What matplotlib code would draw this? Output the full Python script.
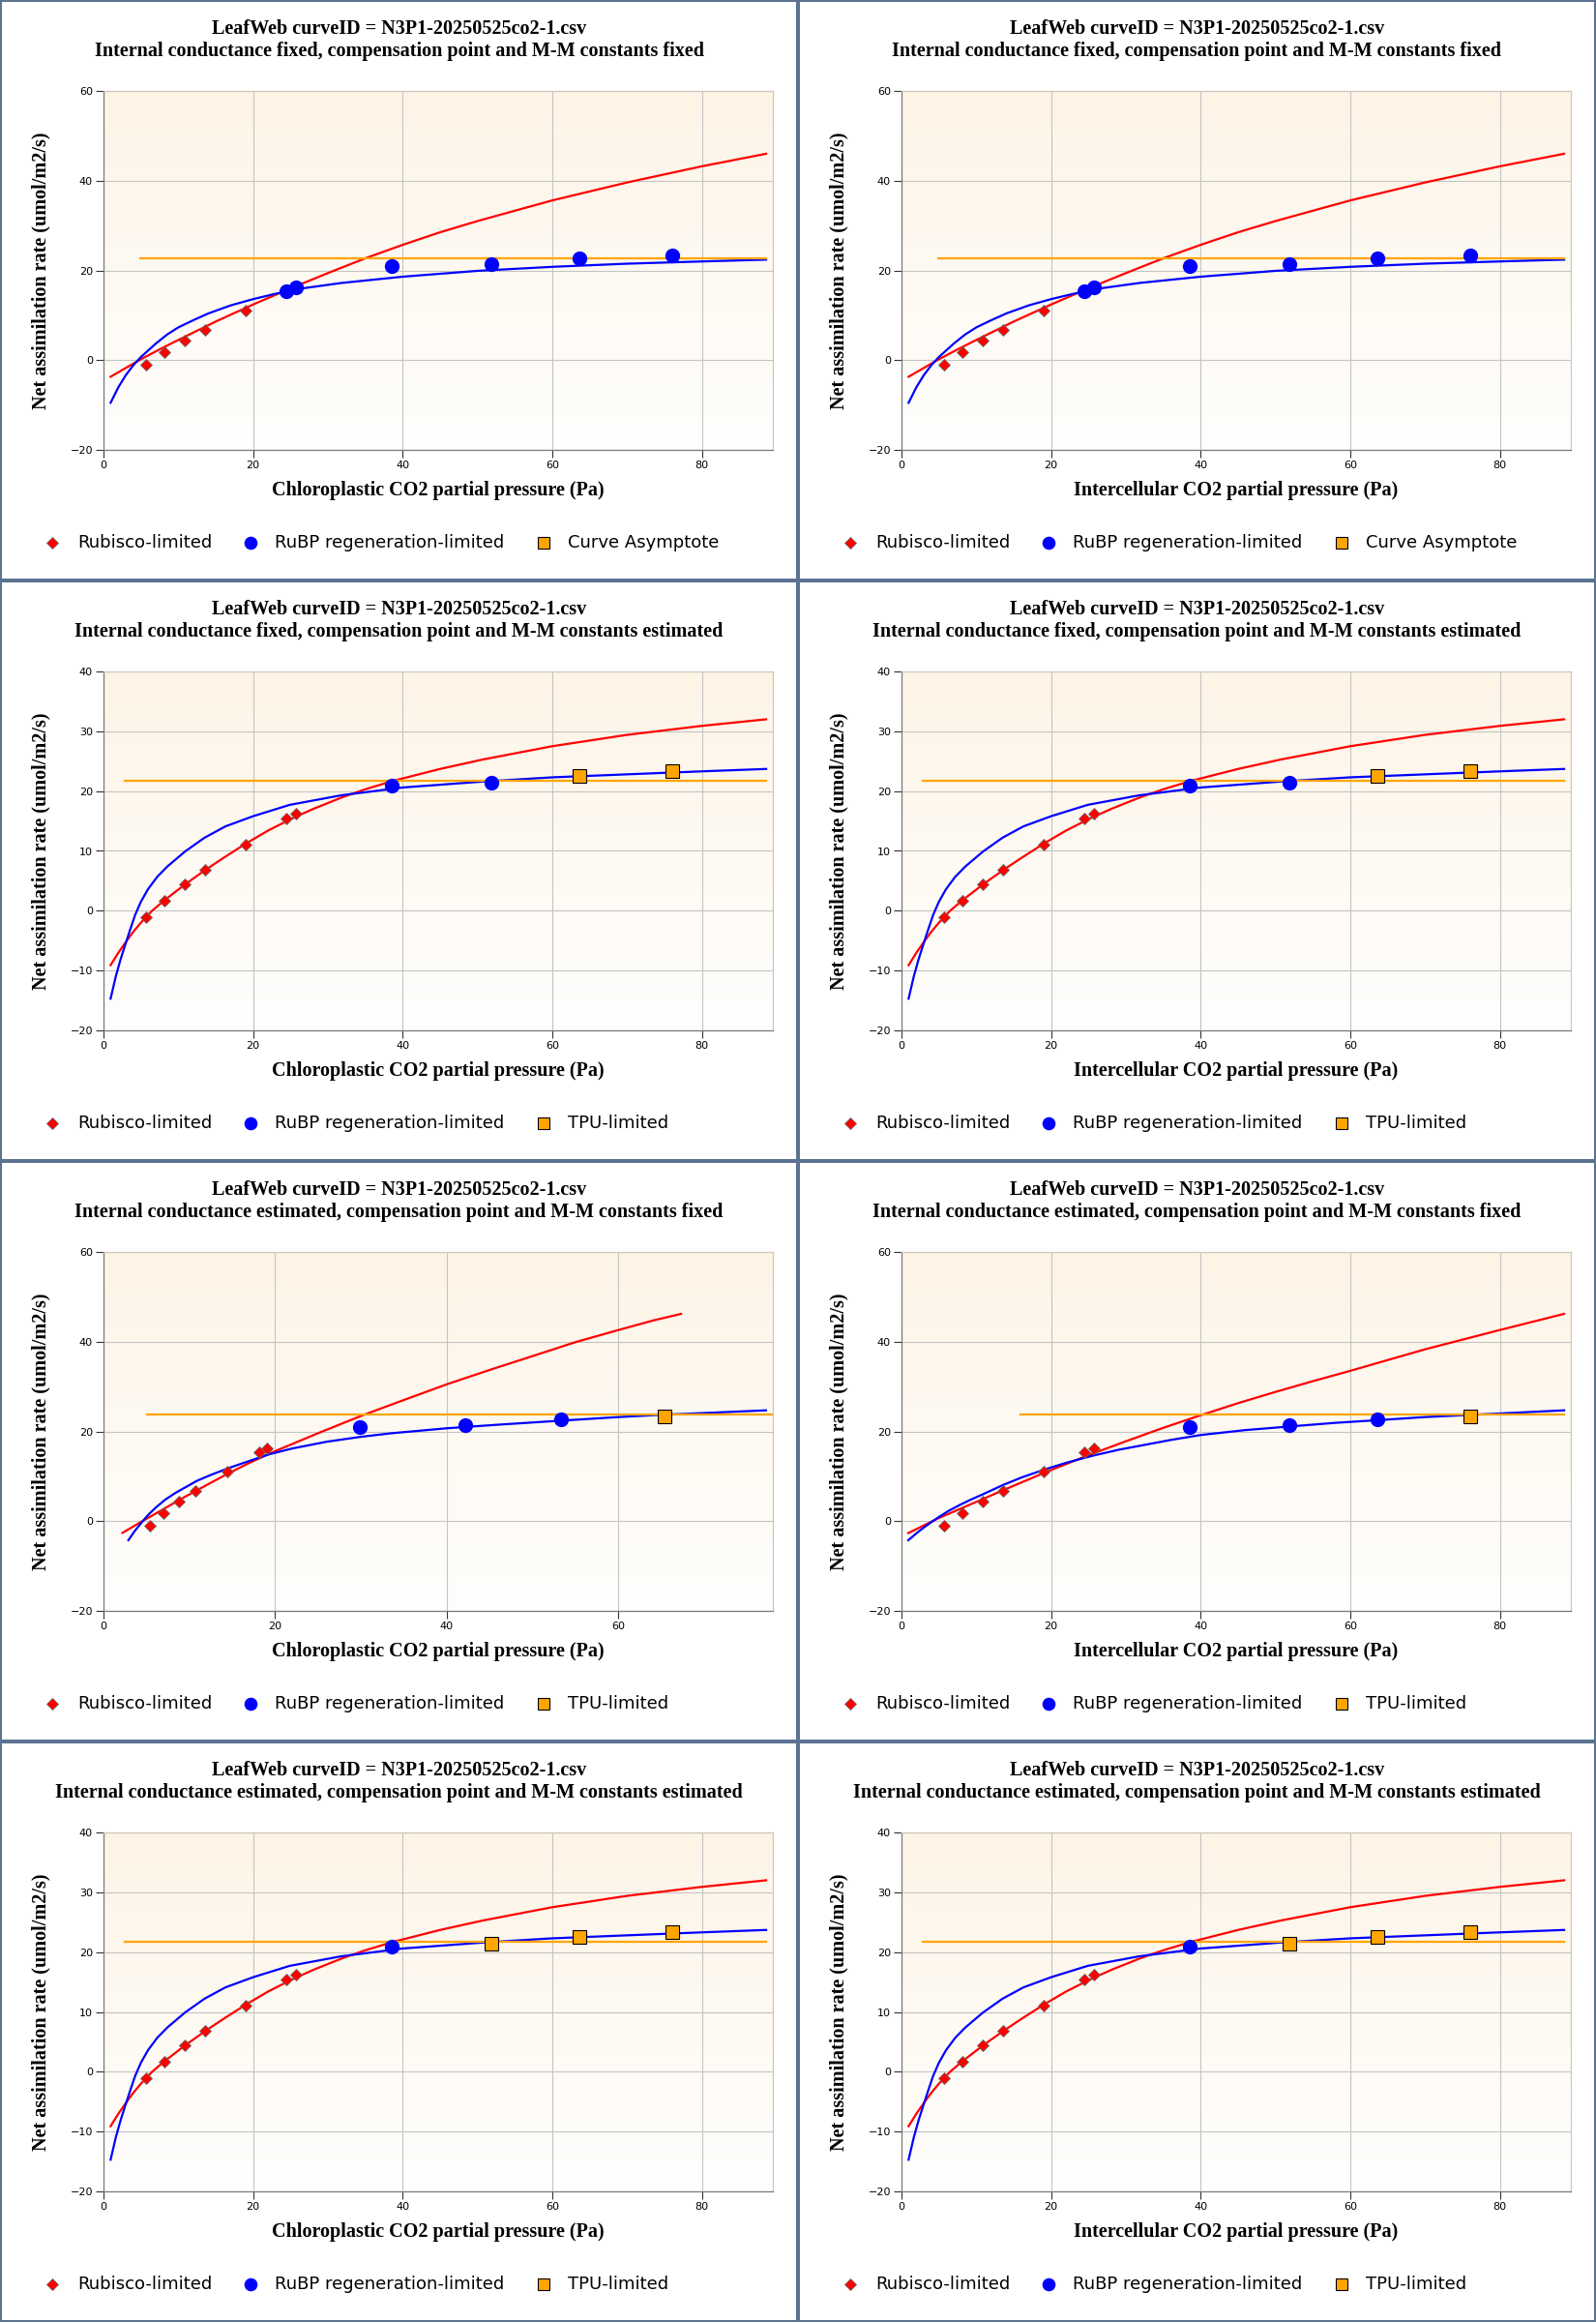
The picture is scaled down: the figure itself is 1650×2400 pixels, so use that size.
import numpy as np
import matplotlib
matplotlib.use("Agg")
import matplotlib.pyplot as plt
from matplotlib.colors import LinearSegmentedColormap
from matplotlib.lines import Line2D

# ---- observed points (same measurements in every panel) ----
ci_obs = [5.65, 8.16, 10.9, 13.6, 19.0, 24.4, 25.7, 38.6, 51.9, 63.6, 76.0]
cc_est_obs = [5.38, 6.99, 8.84, 10.68, 14.45, 18.15, 19.1, 29.9, 42.2, 53.3, 65.4]
a_obs = [-1.1, 1.75, 4.35, 6.8, 11.1, 15.35, 16.3, 20.9, 21.4, 22.6, 23.3]

# limitation assigned to each point: R = Rubisco, J = RuBP regeneration, T = TPU
lim_ff = ["R", "R", "R", "R", "R", "J", "J", "J", "J", "J", "J"]
lim_fe = ["R", "R", "R", "R", "R", "R", "R", "J", "J", "T", "T"]
lim_ef = ["R", "R", "R", "R", "R", "R", "R", "J", "J", "J", "T"]
lim_ee = ["R", "R", "R", "R", "R", "R", "R", "J", "T", "T", "T"]

# ---- fitted curves ----
# gm fixed, constants fixed
ff_x_rub = [0.95, 2.5, 5, 7.5, 10, 15, 20, 25, 30, 35, 40, 45, 50, 60, 70, 80, 88.6]
ff_a_rub = [-3.7, -2.2, 0.2, 2.4, 4.5, 8.6, 12.4, 16.0, 19.4, 22.7, 25.7, 28.5, 31.0, 35.6, 39.6, 43.2, 46.0]
ff_x_j = [0.95, 2, 3, 4, 5, 6, 7, 8.5, 10, 12, 14, 17, 20, 23, 26.6, 31.8, 40, 50, 60, 70, 80, 88.6]
ff_a_j = [-9.5, -6.0, -3.3, -1.1, 0.7, 2.2, 3.7, 5.7, 7.3, 8.9, 10.4, 12.2, 13.6, 14.8, 16.0, 17.2, 18.6, 19.9, 20.8, 21.5, 22.0, 22.4]
ff_asym = 22.8
ff_asym_x = [4.9, 88.6]

# gm fixed, constants estimated (also used for gm estimated, constants estimated)
fe_x_rub = [0.95, 2, 3, 4, 5, 6.5, 8.2, 10.9, 13.6, 16, 19, 22, 25, 28, 32, 35, 38.7, 45, 50.8, 60, 70, 80, 88.6]
fe_a_rub = [-9.1, -7.0, -5.2, -3.5, -2.0, 0.0, 1.8, 4.4, 6.8, 8.8, 11.2, 13.4, 15.3, 17.0, 19.0, 20.3, 21.7, 23.7, 25.3, 27.5, 29.4, 30.9, 32.0]
fe_x_j = [0.95, 1.64, 2.29, 2.85, 3.5, 4.23, 5.0, 5.95, 7.2, 8.54, 10.9, 13.5, 16.3, 20, 24.9, 31.8, 40, 50.8, 60, 70, 80, 88.6]
fe_a_j = [-14.7, -11.0, -8.1, -5.9, -3.4, -0.7, 1.5, 3.6, 5.7, 7.4, 9.9, 12.2, 14.1, 15.8, 17.7, 19.3, 20.6, 21.6, 22.3, 22.8, 23.3, 23.7]
fe_asym = 21.75
fe_asym_x = [2.9, 88.6]

# gm estimated, constants fixed - chloroplastic
efc_x_rub = [2.22, 4.44, 7, 9, 11, 14.4, 17, 20, 25, 30.2, 35, 40, 45, 50.5, 55, 60, 64, 67.3]
efc_a_rub = [-2.6, -0.1, 2.7, 4.9, 7.0, 10.5, 13.0, 15.6, 19.6, 23.6, 27.0, 30.5, 33.7, 37.1, 39.9, 42.6, 44.7, 46.2]
efc_x_j = [2.9, 3.6, 4.44, 5.2, 6.13, 7.2, 8.39, 10.9, 12.5, 14.4, 16.5, 19.3, 22, 26, 30, 33.6, 40, 46, 53.3, 60, 65, 70, 77.2]
efc_a_j = [-4.25, -2.3, -0.3, 1.4, 3.1, 4.8, 6.3, 9.0, 10.3, 11.7, 13.1, 14.9, 16.2, 17.7, 18.8, 19.6, 20.7, 21.5, 22.4, 23.2, 23.7, 24.1, 24.7]
efc_asym = 23.7
efc_asym_x = [5.06, 78.0]

# gm estimated, constants fixed - intercellular
efi_x_rub = [0.91, 5, 10, 15, 20, 25, 30, 35, 40, 45, 50, 55, 60, 70, 80, 88.6]
efi_a_rub = [-2.66, 0.7, 4.3, 7.9, 11.4, 14.7, 17.8, 20.8, 23.6, 26.3, 28.8, 31.2, 33.5, 38.3, 42.6, 46.2]
efi_x_j = [0.91, 2, 3, 4, 4.88, 6.3, 7.9, 9.4, 10.9, 13.5, 16, 19.1, 22, 25.6, 29, 32.5, 36, 40, 46, 51.9, 57.9, 63.6, 70, 80, 88.6]
efi_a_j = [-4.25, -2.7, -1.4, -0.2, 0.8, 2.3, 3.7, 4.9, 6.0, 8.0, 9.7, 11.5, 13.0, 14.6, 15.9, 17.0, 18.1, 19.2, 20.3, 21.1, 21.9, 22.5, 23.2, 24.0, 24.7]
efi_asym = 23.7
efi_asym_x = [15.9, 88.6]

curve_id = "LeafWeb curveID = N3P1-20250525co2-1.csv"
subtitles = [
    "Internal conductance fixed, compensation point and M-M constants fixed",
    "Internal conductance fixed, compensation point and M-M constants estimated",
    "Internal conductance estimated, compensation point and M-M constants fixed",
    "Internal conductance estimated, compensation point and M-M constants estimated",
]
xlabels = ["Chloroplastic CO2 partial pressure (Pa)", "Intercellular CO2 partial pressure (Pa)"]
ylabel = "Net assimilation rate (umol/m2/s)"
legend_labels_r1 = ["Rubisco-limited", "RuBP regeneration-limited", "Curve Asymptote"]
legend_labels = ["Rubisco-limited", "RuBP regeneration-limited", "TPU-limited"]

RED, BLUE, ORANGE = "#ff0000", "#0000ff", "#ffa500"
BORDER = "#5b7291"
W, H = 1650, 2400
PW, PH = 825, 600

MARK = {
    "R": dict(marker="D", ms=6.3, mfc=RED, mec="#6a6a6a", mew=0.6),
    "J": dict(marker="o", ms=11, mfc=BLUE, mec=BLUE, mew=0),
    "T": dict(marker="s", ms=10.5, mfc=ORANGE, mec="black", mew=0.8),
}

bg_cmap = LinearSegmentedColormap.from_list("bg", ["#fffefd", "#fdf4e6"])


def panel(fig, row, col, xs, lim, rub, rubp, asym, asym_x, xmax, ylim, yticks, xticks, leg):
    x0, y0 = col * PW, row * PH
    ax = fig.add_axes([(x0 + 107) / W, 1 - (y0 + 465) / H, 692 / W, 371 / H])
    grad = np.linspace(0, 1, 256)[:, None]
    ax.imshow(grad, cmap=bg_cmap, origin="lower", extent=[0, 1, 0, 1],
              transform=ax.transAxes, aspect="auto", zorder=-1)
    ax.grid(True, color="#c4c4c4", lw=0.8)
    ax.set_axisbelow(True)

    ax.plot(rub[0], rub[1], color=RED, lw=1.6, zorder=3)
    ax.plot(rubp[0], rubp[1], color=BLUE, lw=1.6, zorder=3)
    ax.plot(asym_x, [asym, asym], color=ORANGE, lw=1.6, zorder=3)
    for x, a, l in zip(xs, a_obs, lim):
        ax.plot([x], [a], ls="none", zorder=4, **MARK[l])

    ax.set_xlim(0, xmax)
    ax.set_ylim(*ylim)
    ax.set_xticks(xticks)
    ax.set_yticks(yticks)
    ax.tick_params(labelsize=8, length=6, width=0.8, color="#333333", pad=2)
    for s in ("left", "bottom"):
        ax.spines[s].set_color("#7a7a7a")
        ax.spines[s].set_linewidth(0.9)
    for s in ("top", "right"):
        ax.spines[s].set_color("#cfc8bb")
        ax.spines[s].set_linewidth(0.9)

    cx = (x0 + PW / 2) / W
    tfont = dict(family="Liberation Serif", weight="bold", fontsize=14.5)
    fig.text(cx, 1 - (y0 + 30) / H, curve_id, ha="center", va="center", **tfont)
    fig.text(cx, 1 - (y0 + 53) / H, subtitles[row], ha="center", va="center", **tfont)
    fig.text((x0 + 453) / W, 1 - (y0 + 507) / H, xlabels[col], ha="center", va="center", **tfont)
    fig.text((x0 + 42) / W, 1 - (y0 + 279.5) / H, ylabel, ha="center", va="center",
             rotation=90, **tfont)

    # legend row
    ly = 1 - (y0 + 561) / H
    leg_marks = [dict(MARK["R"], ms=6.0), dict(MARK["J"], ms=9.8), dict(MARK["T"], ms=9.2)]
    for mx, tx, m, txt in zip([54, 259, 562], [80, 284, 587], leg_marks, leg):
        fig.add_artist(Line2D([(x0 + mx) / W], [ly], transform=fig.transFigure, ls="none", **m))
        fig.text((x0 + tx) / W, ly, txt, ha="left", va="center",
                 family="DejaVu Sans", fontsize=13)


fig = plt.figure(figsize=(W / 100, H / 100), dpi=100)
fig.patch.set_facecolor("white")

y60 = ((-20, 60), [-20, 0, 20, 40, 60])
y40 = ((-20, 40), [-20, -10, 0, 10, 20, 30, 40])
xt = [0, 20, 40, 60, 80]

for col, xs in enumerate([ci_obs, ci_obs]):
    panel(fig, 0, col, xs, lim_ff, (ff_x_rub, ff_a_rub), (ff_x_j, ff_a_j),
          ff_asym, ff_asym_x, 89.5, y60[0], y60[1], xt, legend_labels_r1)
    panel(fig, 1, col, xs, lim_fe, (fe_x_rub, fe_a_rub), (fe_x_j, fe_a_j),
          fe_asym, fe_asym_x, 89.5, y40[0], y40[1], xt, legend_labels)
    panel(fig, 3, col, xs, lim_ee, (fe_x_rub, fe_a_rub), (fe_x_j, fe_a_j),
          fe_asym, fe_asym_x, 89.5, y40[0], y40[1], xt, legend_labels)

panel(fig, 2, 0, cc_est_obs, lim_ef, (efc_x_rub, efc_a_rub), (efc_x_j, efc_a_j),
      efc_asym, efc_asym_x, 78.0, y60[0], y60[1], [0, 20, 40, 60], legend_labels)
panel(fig, 2, 1, ci_obs, lim_ef, (efi_x_rub, efi_a_rub), (efi_x_j, efi_a_j),
      efi_asym, efi_asym_x, 89.5, y60[0], y60[1], xt, legend_labels)

# panel frames
bw = 4 * 0.72
for xb in [0, PW, W]:
    fig.add_artist(Line2D([xb / W, xb / W], [0, 1], transform=fig.transFigure,
                          color=BORDER, lw=bw))
for yb in [0, PH, 2 * PH, 3 * PH, H]:
    fig.add_artist(Line2D([0, 1], [1 - yb / H, 1 - yb / H], transform=fig.transFigure,
                          color=BORDER, lw=bw))

fig.savefig("out.png", dpi=100)
